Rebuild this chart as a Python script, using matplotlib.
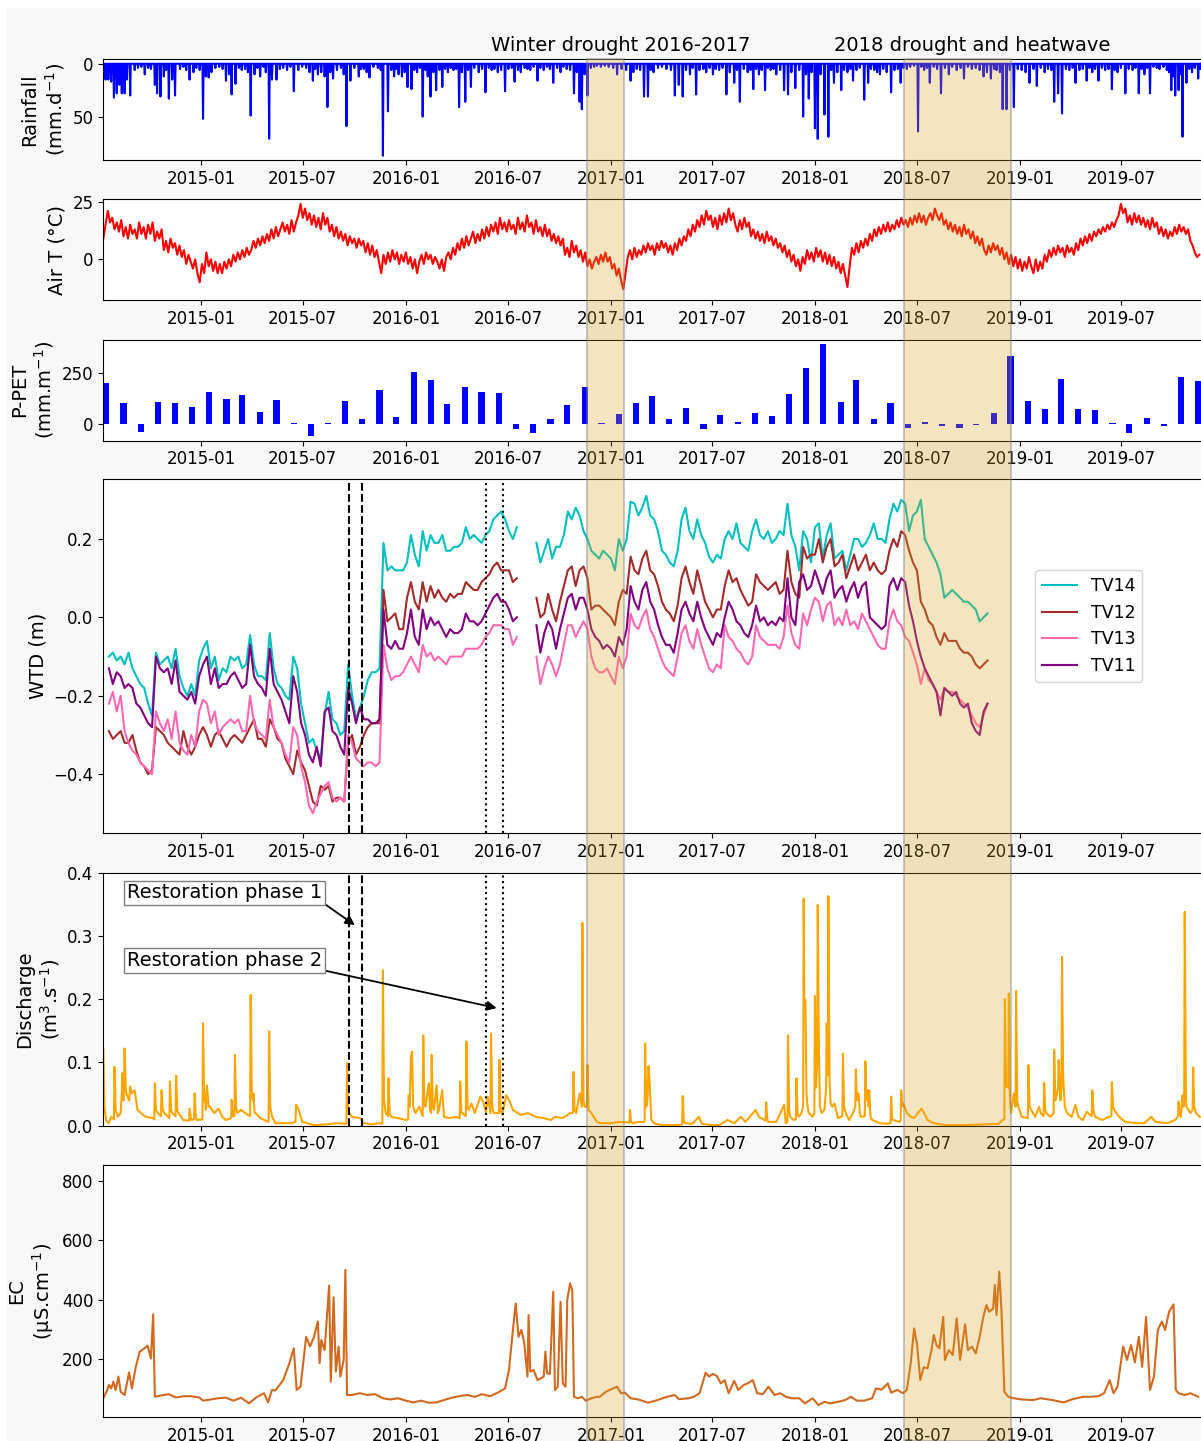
import numpy as np
import pandas as pd
import matplotlib
matplotlib.use("Agg")
import matplotlib.pyplot as plt
import matplotlib.dates as mdates
from matplotlib.colors import to_rgba
from matplotlib.patches import Rectangle
from matplotlib.transforms import blended_transform_factory

### Zeitachse: Tage ab Beginn der Messreihe ###
START = pd.Timestamp("2014-07-10")
N_DAYS = 1960

### Niederschlag (Tag, mm/d) ###
rain_day = [4, 9, 14, 19, 24, 29, 33, 38, 42, 48, 56, 62, 68, 74, 80, 85, 92, 96, 102, 108, 112, 117, 123, 128,
            137, 143, 148, 154, 161, 166, 172, 178, 183, 188, 193, 200, 207, 213, 219, 225, 229, 236, 242, 247,
            253, 258, 263, 270, 275, 280, 286, 290, 296, 301, 309, 315, 321, 328, 334, 340, 348, 355, 362, 368,
            374, 378, 383, 389, 395, 400, 405, 410, 417, 424, 429, 434, 441, 448, 456, 460, 465, 470, 475, 482,
            490, 495, 499, 508, 514, 519, 523, 527, 533, 538, 543, 550, 555, 560, 565, 570, 575, 579, 584, 589,
            594, 600, 605, 610, 615, 620, 625, 630, 635, 640, 646, 651, 656, 662, 670, 676, 682, 688, 693, 698,
            704, 710, 717, 723, 729, 734, 740, 745, 752, 757, 762, 768, 775, 780, 786, 792, 797, 803, 810, 816,
            821, 827, 833, 840, 845, 850, 854, 859, 864, 870, 876, 881,
            888, 895, 902, 910, 917, 925, 933, 941, 946, 952, 958, 965, 972, 977, 982, 990, 997, 1005, 1013, 1020,
            1027, 1034, 1040, 1047, 1052, 1058, 1064, 1071, 1076, 1082, 1088, 1093, 1099, 1105, 1112, 1118, 1126,
            1131, 1136, 1143, 1150, 1155, 1160, 1165, 1170, 1175, 1181, 1186, 1191, 1196, 1201, 1208, 1215, 1222,
            1228, 1235, 1242, 1249, 1254, 1259, 1264, 1270, 1275, 1280, 1287, 1294, 1299, 1304, 1310, 1317, 1322,
            1328, 1333, 1338, 1344, 1350, 1358, 1365, 1370, 1376, 1381, 1386, 1392, 1398, 1406, 1412, 1418, 1423,
            1428, 1434, 1440, 1447, 1454, 1460, 1465, 1470, 1475, 1482, 1488, 1495, 1502, 1509, 1515, 1523, 1530,
            1536, 1543, 1550, 1557, 1564, 1571, 1577, 1584, 1590, 1594, 1600, 1605, 1612, 1618, 1625, 1632, 1639,
            1646, 1653, 1660, 1666, 1673, 1680, 1686, 1692, 1697, 1704, 1711, 1718, 1724, 1730, 1735, 1742, 1748,
            1755, 1760, 1765, 1770, 1776, 1782, 1788, 1794, 1800, 1805, 1810, 1816, 1824, 1830, 1837, 1842, 1848,
            1853, 1858, 1863, 1868, 1874, 1880, 1885, 1892, 1898, 1902, 1906, 1910, 1913, 1919, 1923, 1926, 1933,
            1938, 1943, 1948, 1954, 1958]
rain_mm = [15, 15, 17, 32, 28, 20, 28, 28, 15, 30, 6, 4, 3, 10, 4, 5, 20, 28, 31, 12, 6, 33, 15, 30,
           5, 3, 6, 15, 8, 4, 6, 52, 12, 13, 8, 4, 3, 5, 16, 10, 29, 19, 4, 6,
           5, 8, 49, 10, 4, 12, 3, 8, 71, 15, 15, 5, 4, 6, 3, 26, 6, 3, 4, 8,
           16, 5, 10, 8, 12, 41, 8, 14, 6, 4, 10, 59, 16, 4, 12, 5, 5, 8, 13, 3,
           4, 6, 87, 45, 6, 12, 5, 10, 12, 8, 22, 24, 6, 8, 4, 50, 6, 12, 31, 8,
           25, 6, 22, 5, 8, 4, 6, 5, 41, 8, 36, 6, 22, 4, 8, 5, 27, 4, 6, 5,
           8, 6, 26, 5, 4, 17, 6, 8, 4, 5, 6, 3, 16, 4, 6, 3, 5, 18, 4, 8,
           3, 5, 6, 28, 8, 36, 43, 10, 30, 4, 3, 2,
           3, 2, 3, 4, 10, 5, 6, 16, 8, 5, 6, 31, 31, 6, 8, 4, 3, 5, 6, 30,
           20, 31, 6, 10, 4, 29, 6, 5, 8, 4, 10, 5, 6, 4, 29, 8, 18,
           6, 36, 5, 8, 6, 24, 5, 10, 6, 25, 4, 6, 5, 10, 6, 25, 29,
           8, 23, 6, 50, 10, 33, 8, 61, 71, 10, 48, 69, 6, 18, 8, 25, 6,
           8, 5, 16, 6, 4, 34, 18, 5, 6, 8, 10, 5, 8, 27, 6, 5, 18,
           4, 5, 3, 2, 64, 3, 6, 4, 18, 3, 5, 28, 4, 10, 3, 6, 4,
           14, 3, 5, 4, 6, 12, 8, 14, 5, 6, 8, 43, 43, 6, 41, 5, 6,
           8, 18, 5, 21, 4, 8, 5, 6, 36, 28, 47, 5, 6, 4, 18, 6, 5,
           16, 4, 8, 5, 16, 4, 6, 5, 24, 6, 8, 4, 28, 5, 6, 4, 28,
           5, 10, 4, 28, 3, 4, 5, 3, 6, 8, 25, 12, 30, 25, 10, 69, 18,
           5, 8, 4, 14, 5]

### Lufttemperatur, alle 4 Tage ab 2014-07-10 (°C) ###
temp_c = [9, 15, 21, 16, 18, 13, 16, 12, 17, 10, 14, 9, 15, 11, 13, 9, 16, 11, 14, 9,
          15, 11, 16, 8, 12, 9, 13, 4, 8, 3, 9, 5, 7, 2, 6, 1, 4, -2, 2, -1,
          -4, 0, -6, -10, -2, -6, 3, -3, 0, -5, -1, -6, -2, -6, -1, -4, 0, -3, 2, -1,
          3, 0, 4, 1, 5, 2, 4, 8, 5, 9, 6, 10, 7, 11, 8, 13, 9, 14, 10, 13,
          16, 12, 15, 11, 17, 12, 16, 19, 24, 18, 22, 17, 20, 15, 19, 14, 18, 13, 20, 15,
          18, 12, 15, 10, 14, 9, 12, 8, 11, 6, 10, 7, 9, 5, 9, 6, 8, 3, 7, 2,
          6, 1, 4, -1, -6, 2, -2, 3, -1, 4, 0, 3, -2, 2, -1, 3, -2, 1, -4, 0,
          -6, -1, 2, -2, 3, 0, 2, -2, 1, -1, -4, 0, -5, 1, 3, 0, 5, 2, 7, 4,
          9, 5, 10, 6, 9, 12, 7, 11, 8, 13, 9, 14, 10, 15, 12, 16, 11, 18, 13, 16,
          12, 17, 13, 15, 11, 18, 13, 16, 12, 19, 14, 16, 11, 17, 12, 14, 10, 15, 10, 13,
          8, 11, 7, 10, 6, 9, 2, 5, 1, 8, 3, 6, 1, 4, -1, 3, -3, 0, -4, -1,
          1, -2, 2, -1, 3, -1, 1, -4, -2, -7, -4, -9, -13, -6, 1, 4, 0, 5, 1, 4,
          2, 6, 3, 7, 4, 6, 2, 7, 4, 8, 5, 7, 3, 6, 2, 7, 4, 9, 6, 10,
          8, 13, 10, 15, 12, 17, 14, 19, 15, 21, 17, 19, 14, 18, 13, 19, 15, 20, 16, 22,
          17, 20, 15, 12, 17, 13, 18, 14, 16, 10, 13, 9, 12, 8, 11, 7, 12, 8, 10, 6,
          9, 5, 7, 3, 6, 1, 4, -1, 2, -3, 0, -5, 1, -2, 4, 0, 3, -1, 5, 1,
          4, -1, 3, -2, 2, -3, 1, -4, -1, -6, -2, -7, -12, -3, 5, 2, 7, 3, 8, 5,
          9, 6, 11, 8, 13, 10, 14, 11, 15, 12, 16, 12, 15, 13, 17, 14, 18, 15, 17, 14,
          18, 15, 19, 16, 20, 16, 19, 15, 18, 20, 17, 22, 19, 17, 20, 15, 17, 13, 16, 12,
          15, 11, 14, 10, 15, 11, 13, 9, 12, 7, 10, 6, 9, 4, 2, 6, 3, 7, 4, 6,
          2, 5, 0, 3, -2, 2, -3, 1, -4, 0, -5, -1, -4, 1, -3, -6, 0, -5, -1, -4,
          2, -1, 4, 1, 5, 2, 6, 3, 5, 1, 6, 3, 5, 2, 7, 4, 9, 6, 10, 7,
          11, 8, 12, 10, 13, 11, 14, 12, 15, 13, 16, 14, 17, 19, 24, 20, 22, 16, 19, 15,
          20, 16, 19, 15, 18, 14, 17, 13, 18, 14, 16, 11, 14, 10, 13, 9, 12, 10, 14, 11,
          15, 12, 14, 11, 13, 8, 6, 3, 1, 2]

### P-PET, Monatswerte 2014-07 bis 2019-11 (mm/Monat) ###
ppet_mm = [198, 104, -37, 109, 101, 84,
           154, 122, 143, 60, 117, 3, -57, 3, 114, 23, 164, 32,
           252, 214, 99, 182, 156, 149, -26, -45, 23, 93, 182, 5,
           47, 101, 138, 23, 76, -26, 42, 8, 54, 39, 148, 271,
           388, 109, 213, 26, 101, -18, 8, -10, -18, -3, 52, 330,
           112, 73, 219, 71, 70, 3, -45, 29, -10, 227, 208]

### Grundwasserflurabstand, Wochenwerte ab 2014-07-20 (m) ###
nan = np.nan
tv14 = [-0.10, -0.09, -0.11, -0.10, -0.12, -0.09, -0.13, -0.15, -0.17, -0.18,
        -0.22, -0.25, -0.09, -0.12, -0.11, -0.10, -0.13, -0.08, -0.15, -0.18,
        -0.20, -0.17, -0.20, -0.11, -0.08, -0.06, -0.13, -0.10, -0.16, -0.13,
        -0.14, -0.10, -0.11, -0.10, -0.13, -0.12, -0.045, -0.12, -0.15, -0.15,
        -0.16, -0.04, -0.13, -0.17, -0.18, -0.20, -0.21, -0.10, -0.13, -0.22,
        -0.27, -0.32, -0.31, -0.34, -0.36, -0.25, -0.19, -0.26, -0.27, -0.30,
        -0.29, -0.12, -0.20, -0.26, -0.23, -0.20, -0.16, -0.14, -0.14, -0.13,
        0.19, 0.12, 0.13, 0.12, 0.12, 0.12, 0.14, 0.21, 0.16, 0.13,
        0.22, 0.17, 0.21, 0.19, 0.19, 0.21, 0.17, 0.17, 0.18, 0.18,
        0.19, 0.23, 0.20, 0.21, 0.20, 0.19, 0.21, 0.22, 0.25, 0.26,
        0.27, 0.25, 0.22, 0.20, 0.23, nan, nan, nan, nan, 0.19,
        0.14, 0.17, 0.20, 0.15, 0.18, 0.18, 0.21, 0.27, 0.25, 0.28,
        0.26, 0.22, 0.20, 0.17, 0.16, 0.15, 0.17, 0.16, 0.15, 0.12,
        0.20, 0.17, 0.20, 0.295, 0.29, 0.26, 0.28, 0.31, 0.26, 0.25,
        0.22, 0.17, 0.16, 0.14, 0.13, 0.17, 0.25, 0.28, 0.22, 0.20,
        0.25, 0.21, 0.19, 0.155, 0.14, 0.16, 0.15, 0.20, 0.22, 0.20,
        0.24, 0.19, 0.18, 0.17, 0.22, 0.25, 0.21, 0.20, 0.22, 0.19,
        0.20, 0.22, 0.21, 0.29, 0.21, 0.18, 0.12, 0.22, 0.20, 0.14,
        0.23, 0.24, 0.15, 0.21, 0.24, 0.15, 0.16, 0.17, 0.12, 0.16,
        0.20, 0.20, 0.18, 0.19, 0.21, 0.24, 0.20, 0.20, 0.19, 0.25,
        0.29, 0.27, 0.30, 0.29, 0.22, 0.26, 0.27, 0.30, 0.20, 0.18,
        0.16, 0.14, 0.11, 0.05, 0.06, 0.07, 0.06, 0.05, 0.04, 0.04,
        0.03, 0.02, -0.01, 0.00, 0.01]
tv12 = [-0.29, -0.31, -0.30, -0.29, -0.32, -0.32, -0.30, -0.34, -0.37, -0.38,
        -0.40, -0.39, -0.28, -0.29, -0.30, -0.32, -0.33, -0.34, -0.35, -0.29,
        -0.33, -0.35, -0.33, -0.30, -0.28, -0.30, -0.33, -0.30, -0.29, -0.31,
        -0.33, -0.31, -0.30, -0.31, -0.32, -0.30, -0.28, -0.26, -0.31, -0.31,
        -0.33, -0.26, -0.28, -0.31, -0.32, -0.36, -0.38, -0.40, -0.34, -0.37,
        -0.39, -0.43, -0.47, -0.48, -0.43, -0.44, -0.43, -0.47, -0.46, -0.46,
        -0.47, -0.32, -0.30, -0.35, -0.33, -0.30, -0.28, -0.27, -0.27, -0.27,
        0.07, -0.01, 0.00, 0.01, -0.03, -0.03, 0.05, 0.09, 0.04, 0.02,
        0.09, 0.04, 0.08, 0.05, 0.07, 0.05, 0.04, 0.06, 0.05, 0.06,
        0.06, 0.09, 0.08, 0.07, 0.07, 0.09, 0.10, 0.11, 0.13, 0.14,
        0.12, 0.12, 0.12, 0.09, 0.10, nan, nan, nan, nan, 0.05,
        0.00, 0.01, 0.06, 0.02, -0.01, 0.04, 0.08, 0.12, 0.13, 0.08,
        0.12, 0.13, 0.10, 0.02, 0.03, 0.03, 0.02, 0.01, 0.00, -0.02,
        0.04, 0.07, 0.06, 0.155, 0.12, 0.11, 0.15, 0.17, 0.12, 0.11,
        0.08, 0.04, 0.02, 0.01, -0.01, 0.03, 0.10, 0.13, 0.09, 0.06,
        0.12, 0.08, 0.04, 0.02, 0.00, 0.02, 0.02, 0.08, 0.12, 0.09,
        0.10, 0.07, 0.05, 0.03, 0.04, 0.11, 0.09, 0.08, 0.07, 0.08,
        0.09, 0.06, 0.07, 0.17, 0.09, 0.06, 0.05, 0.18, 0.15, 0.16,
        0.16, 0.20, 0.14, 0.18, 0.20, 0.13, 0.14, 0.16, 0.10, 0.13,
        0.16, 0.12, 0.14, 0.16, 0.12, 0.14, 0.12, 0.11, 0.12, 0.17,
        0.20, 0.18, 0.22, 0.21, 0.17, 0.14, 0.12, 0.04, 0.02, -0.01,
        -0.02, -0.05, -0.07, -0.04, -0.06, -0.06, -0.06, -0.08, -0.09, -0.09,
        -0.10, -0.12, -0.13, -0.12, -0.11]
tv13 = [-0.22, -0.19, -0.24, -0.20, -0.29, -0.32, -0.34, -0.35, -0.37, -0.38,
        -0.39, -0.40, -0.24, -0.27, -0.29, -0.26, -0.31, -0.24, -0.32, -0.34,
        -0.35, -0.30, -0.33, -0.24, -0.21, -0.22, -0.27, -0.24, -0.30, -0.28,
        -0.27, -0.26, -0.27, -0.26, -0.29, -0.29, -0.20, -0.27, -0.29, -0.30,
        -0.31, -0.21, -0.28, -0.30, -0.32, -0.35, -0.37, -0.28, -0.30, -0.38,
        -0.42, -0.48, -0.50, -0.47, -0.45, -0.43, -0.42, -0.46, -0.47, -0.46,
        -0.47, -0.30, -0.32, -0.36, -0.37, -0.38, -0.37, -0.37, -0.38, -0.37,
        -0.07, -0.13, -0.16, -0.15, -0.15, -0.14, -0.12, -0.10, -0.12, -0.14,
        -0.07, -0.10, -0.09, -0.11, -0.10, -0.11, -0.12, -0.10, -0.10, -0.10,
        -0.10, -0.08, -0.08, -0.08, -0.08, -0.07, -0.05, -0.04, -0.02, -0.02,
        -0.02, -0.03, -0.03, -0.07, -0.05, nan, nan, nan, nan, -0.10,
        -0.17, -0.13, -0.10, -0.12, -0.15, -0.12, -0.07, -0.02, -0.02, -0.05,
        -0.03, -0.01, -0.03, -0.10, -0.13, -0.14, -0.14, -0.13, -0.15, -0.17,
        -0.10, -0.13, -0.10, 0.01, -0.02, -0.03, 0.00, 0.02, -0.03, -0.05,
        -0.08, -0.11, -0.13, -0.14, -0.15, -0.10, -0.04, -0.02, -0.06, -0.08,
        -0.03, -0.07, -0.10, -0.13, -0.14, -0.12, -0.13, -0.02, -0.05, -0.06,
        -0.08, -0.09, -0.11, -0.12, -0.10, -0.02, -0.05, -0.06, -0.07, -0.07,
        -0.07, -0.08, -0.05, 0.03, -0.04, -0.07, -0.08, 0.01, -0.02, 0.02,
        0.05, 0.04, -0.01, 0.03, 0.04, -0.02, 0.00, -0.02, 0.02, -0.02,
        -0.01, -0.03, 0.01, -0.01, -0.03, -0.05, -0.07, -0.08, -0.08, -0.01,
        0.02, -0.01, -0.02, -0.05, -0.06, -0.09, -0.12, -0.17, -0.13, -0.16,
        -0.17, -0.19, -0.21, -0.18, -0.19, -0.19, -0.20, -0.21, -0.22, -0.23,
        -0.25, -0.27, -0.28, -0.25, -0.22]
tv11 = [-0.13, -0.17, -0.14, -0.15, -0.18, -0.17, -0.18, -0.22, -0.23, -0.25,
        -0.27, -0.28, -0.10, -0.13, -0.14, -0.13, -0.17, -0.11, -0.19, -0.20,
        -0.21, -0.19, -0.22, -0.15, -0.12, -0.10, -0.17, -0.13, -0.18, -0.17,
        -0.17, -0.15, -0.14, -0.16, -0.18, -0.17, -0.07, -0.15, -0.17, -0.18,
        -0.20, -0.08, -0.17, -0.19, -0.21, -0.24, -0.27, -0.15, -0.19, -0.27,
        -0.30, -0.35, -0.37, -0.33, -0.38, -0.24, -0.23, -0.29, -0.30, -0.33,
        -0.35, -0.18, -0.22, -0.27, -0.23, -0.26, -0.26, -0.27, -0.27, -0.26,
        0.02, -0.07, -0.08, -0.06, -0.08, -0.08, -0.04, 0.02, -0.05, -0.07,
        0.02, -0.03, 0.00, -0.02, -0.01, -0.03, -0.05, -0.03, -0.04, -0.04,
        -0.03, 0.01, -0.01, -0.01, -0.02, -0.01, 0.01, 0.03, 0.05, 0.06,
        0.04, 0.04, 0.02, -0.01, 0.00, nan, nan, nan, nan, -0.02,
        -0.09, -0.04, -0.01, -0.03, -0.08, -0.03, 0.01, 0.05, 0.06, 0.02,
        0.05, 0.05, 0.02, -0.03, -0.05, -0.06, -0.08, -0.07, -0.08, -0.10,
        -0.05, -0.07, -0.03, 0.08, 0.04, 0.02, 0.07, 0.09, 0.04, 0.02,
        -0.02, -0.05, -0.07, -0.07, -0.09, -0.04, 0.02, 0.04, 0.01, -0.01,
        0.04, 0.00, -0.03, -0.05, -0.07, -0.04, -0.05, 0.00, 0.04, 0.02,
        -0.01, -0.02, -0.04, -0.05, -0.02, 0.03, -0.01, 0.00, -0.02, -0.01,
        -0.02, 0.00, -0.01, 0.10, 0.00, -0.02, 0.09, 0.11, 0.07, 0.08,
        0.12, 0.09, 0.06, 0.10, 0.12, 0.05, 0.07, 0.08, 0.04, 0.07,
        0.09, 0.05, 0.08, 0.09, 0.00, -0.01, -0.02, -0.03, -0.02, 0.08,
        0.10, 0.07, 0.10, 0.09, 0.03, -0.01, -0.06, -0.10, -0.13, -0.15,
        -0.17, -0.19, -0.25, -0.18, -0.19, -0.20, -0.19, -0.22, -0.23, -0.22,
        -0.27, -0.29, -0.30, -0.24, -0.22]

### Abfluss (Tag, m3/s) ###
q_day = [0, 2, 5, 10, 14, 19, 20, 22, 26, 31,
         33, 34, 36, 37, 38, 40, 41, 46, 48, 51,
         56, 61, 75, 89, 91, 92, 94, 97, 103, 104,
         106, 109, 118, 119, 121, 123, 129, 130, 132, 134,
         143, 153, 154, 157, 162, 163, 165, 167, 177, 178,
         180, 181, 183, 185, 188, 190, 198, 206, 212, 219,
         228, 229, 231, 234, 235, 237, 239, 246, 253, 262,
         263, 265, 267, 268, 270, 272, 280, 295, 296, 298,
         301, 307, 321, 335, 343, 344, 348, 355, 376, 396,
         417, 434, 435, 437, 439, 444, 458, 465, 478, 492,
         498, 499, 501, 504, 508, 509, 511, 514, 526, 540,
         544, 545, 547, 549, 551, 553, 557, 564, 570, 571,
         573, 575, 581, 583, 585, 586, 588, 590, 595, 597,
         599, 605, 608, 618, 628, 636, 637, 639, 641, 647,
         648, 650, 652, 657, 663, 673, 678, 683, 686, 691,
         692, 694, 697, 706, 707, 709, 712, 719, 724, 731,
         745, 758, 772, 786, 799, 806, 820, 833, 838, 839,
         841, 844, 850, 854, 855, 857, 859, 863, 864, 866,
         871, 881, 887, 907, 921, 939, 940, 942, 945, 955,
         966, 967, 969, 971, 973, 975, 978, 982, 996, 1010,
         1023, 1033, 1034, 1036, 1038, 1051, 1063, 1068, 1085, 1099,
         1114, 1126, 1138, 1146, 1164, 1170, 1182, 1183, 1185, 1187,
         1201, 1215, 1218, 1221, 1222, 1224, 1226, 1232, 1236, 1237,
         1239, 1241, 1246, 1249, 1250, 1251, 1253, 1255, 1257, 1259,
         1266, 1269, 1270, 1272, 1274, 1275, 1277, 1279, 1282, 1287,
         1290, 1291, 1293, 1294, 1296, 1298, 1301, 1305, 1311, 1319,
         1320, 1322, 1325, 1331, 1338, 1342, 1343, 1345, 1348, 1350,
         1352, 1359, 1360, 1362, 1364, 1366, 1367, 1369, 1372, 1386,
         1400, 1405, 1406, 1408, 1410, 1420, 1423, 1424, 1426, 1428,
         1434, 1441, 1447, 1460, 1465, 1471, 1482, 1502, 1536, 1570,
         1598, 1605, 1608, 1609, 1611, 1613, 1615, 1616, 1618, 1620,
         1625, 1628, 1629, 1631, 1633, 1639, 1650, 1651, 1653, 1656,
         1663, 1670, 1673, 1678, 1679, 1681, 1683, 1690, 1696, 1697,
         1699, 1702, 1704, 1705, 1708, 1710, 1711, 1713, 1716, 1720,
         1728, 1735, 1740, 1748, 1755, 1764, 1765, 1767, 1770, 1783,
         1789, 1799, 1800, 1802, 1804, 1813, 1824, 1844, 1858, 1870,
         1878, 1899, 1913, 1918, 1919, 1921, 1923, 1926, 1928, 1929,
         1930, 1932, 1933, 1940, 1944, 1945, 1947, 1950, 1957]
q_m3s = [0.122, 0.030, 0.008, 0.004, 0.014, 0.010, 0.093, 0.025, 0.014, 0.020,
         0.050, 0.083, 0.040, 0.060, 0.122, 0.060, 0.051, 0.040, 0.062, 0.051,
         0.056, 0.025, 0.014, 0.012, 0.010, 0.067, 0.025, 0.020, 0.015, 0.056,
         0.025, 0.020, 0.012, 0.070, 0.025, 0.020, 0.015, 0.079, 0.025, 0.020,
         0.009, 0.008, 0.027, 0.009, 0.010, 0.051, 0.015, 0.009, 0.010, 0.162,
         0.040, 0.051, 0.025, 0.064, 0.030, 0.030, 0.020, 0.027, 0.014, 0.009,
         0.012, 0.041, 0.015, 0.015, 0.112, 0.030, 0.020, 0.025, 0.020, 0.015,
         0.207, 0.050, 0.040, 0.051, 0.020, 0.020, 0.012, 0.006, 0.149, 0.030,
         0.015, 0.004, 0.004, 0.004, 0.006, 0.033, 0.027, 0.006, 0.001, 0.002,
         0.004, 0.003, 0.099, 0.025, 0.020, 0.014, 0.012, 0.004, 0.002, 0.004,
         0.003, 0.246, 0.040, 0.020, 0.015, 0.075, 0.020, 0.014, 0.012, 0.009,
         0.010, 0.048, 0.030, 0.109, 0.117, 0.030, 0.020, 0.030, 0.015, 0.143,
         0.035, 0.030, 0.067, 0.025, 0.020, 0.112, 0.030, 0.025, 0.064, 0.020,
         0.025, 0.056, 0.014, 0.012, 0.014, 0.012, 0.070, 0.020, 0.020, 0.015,
         0.133, 0.030, 0.025, 0.035, 0.020, 0.046, 0.038, 0.020, 0.046, 0.020,
         0.146, 0.030, 0.020, 0.020, 0.104, 0.025, 0.017, 0.048, 0.041, 0.025,
         0.017, 0.020, 0.014, 0.012, 0.009, 0.014, 0.012, 0.020, 0.020, 0.085,
         0.025, 0.020, 0.051, 0.030, 0.321, 0.040, 0.030, 0.030, 0.096, 0.025,
         0.020, 0.006, 0.004, 0.004, 0.006, 0.005, 0.025, 0.006, 0.004, 0.006,
         0.006, 0.130, 0.030, 0.040, 0.094, 0.070, 0.010, 0.004, 0.001, 0.001,
         0.001, 0.002, 0.047, 0.008, 0.004, 0.003, 0.014, 0.003, 0.001, 0.001,
         0.009, 0.004, 0.014, 0.006, 0.025, 0.014, 0.008, 0.037, 0.010, 0.006,
         0.006, 0.033, 0.004, 0.006, 0.143, 0.025, 0.014, 0.009, 0.010, 0.075,
         0.020, 0.014, 0.020, 0.030, 0.359, 0.200, 0.199, 0.050, 0.030, 0.020,
         0.014, 0.020, 0.205, 0.060, 0.100, 0.349, 0.125, 0.030, 0.020, 0.025,
         0.060, 0.162, 0.080, 0.363, 0.072, 0.035, 0.030, 0.035, 0.012, 0.015,
         0.114, 0.030, 0.020, 0.009, 0.020, 0.030, 0.089, 0.040, 0.051, 0.020,
         0.014, 0.015, 0.102, 0.040, 0.056, 0.030, 0.056, 0.015, 0.009, 0.004,
         0.003, 0.004, 0.046, 0.010, 0.009, 0.006, 0.008, 0.056, 0.030, 0.035,
         0.020, 0.014, 0.012, 0.027, 0.020, 0.009, 0.004, 0.001, 0.001, 0.002,
         0.003, 0.009, 0.010, 0.200, 0.062, 0.062, 0.060, 0.209, 0.040, 0.020,
         0.051, 0.030, 0.213, 0.040, 0.030, 0.014, 0.012, 0.096, 0.030, 0.025,
         0.014, 0.030, 0.020, 0.015, 0.068, 0.025, 0.020, 0.014, 0.020, 0.120,
         0.040, 0.051, 0.060, 0.104, 0.040, 0.060, 0.267, 0.077, 0.030, 0.020,
         0.014, 0.033, 0.014, 0.009, 0.022, 0.015, 0.056, 0.025, 0.014, 0.009,
         0.012, 0.015, 0.069, 0.030, 0.025, 0.014, 0.006, 0.004, 0.004, 0.014,
         0.006, 0.004, 0.009, 0.015, 0.038, 0.020, 0.014, 0.048, 0.030, 0.040,
         0.338, 0.050, 0.030, 0.020, 0.025, 0.092, 0.030, 0.020, 0.014]

### Elektrische Leitfähigkeit (Tag, µS/cm) ###
ec_day = [0, 7, 10, 14, 18, 22, 27, 31, 38, 46, 51, 58, 65, 72, 79, 85, 89, 92, 102, 116, 130, 144, 157, 171,
          178, 191, 205, 219, 232, 246, 260, 273, 287, 294, 301, 307, 321, 331, 340, 345, 352, 362, 369, 376,
          383, 386, 389, 395, 403, 406, 411, 415, 420, 423, 429, 432, 435, 444, 458, 471, 485, 499, 512, 526,
          540, 553, 567, 581, 594, 608, 622, 635, 649, 663, 676, 690, 704, 717, 724, 731, 736, 741, 746, 751,
          757, 759, 762, 768, 775, 786, 789, 792, 797, 803, 806, 811, 816, 820, 825, 828, 833, 837, 840, 847,
          854, 861, 871, 881,
          886, 897, 907, 917, 924, 931, 941, 955, 972, 989, 1006, 1020, 1027, 1044, 1054, 1064, 1075, 1081,
          1088, 1095, 1102, 1109, 1116, 1126, 1133, 1143, 1150, 1159, 1167, 1177, 1187, 1198, 1208, 1218,
          1229, 1242, 1252, 1266, 1276, 1287, 1297, 1311, 1324, 1334, 1345, 1358, 1372, 1379, 1389, 1400,
          1406, 1417, 1427, 1434, 1441, 1447, 1452, 1458, 1464, 1471, 1478, 1482, 1487, 1492, 1499, 1502,
          1509, 1516, 1523, 1529, 1538, 1543, 1550, 1557, 1564, 1570, 1576, 1581, 1588, 1591, 1594, 1599,
          1603, 1608, 1615, 1625, 1639, 1659, 1673, 1694, 1714, 1728, 1748, 1762, 1776, 1786, 1796, 1803,
          1810, 1820, 1827, 1834, 1841, 1848, 1854, 1861, 1868, 1875, 1882, 1889, 1895, 1902, 1910, 1914,
          1919, 1930, 1940, 1954]
ec_uscm = [69, 97, 114, 102, 125, 97, 142, 91, 80, 156, 102, 175, 226, 235, 246, 203, 351, 74, 78, 83, 72, 76,
           76, 72,
           61, 65, 69, 71, 61, 71, 52, 72, 86, 55, 97, 95, 130, 181, 237, 97, 108, 276, 243, 276,
           327, 187, 265, 231, 448, 125, 409, 159, 243, 142, 198, 501, 80, 80, 86, 80, 83, 69, 65, 69,
           61, 55, 61, 54, 55, 63, 71, 76, 80, 74, 83, 76, 88, 102, 164, 299, 388, 276, 299, 259,
           142, 349, 159, 164, 130, 142, 226, 153, 151, 428, 97, 108, 394, 119, 108, 400, 456, 433, 74, 69,
           74, 61, 69, 74,
           74, 91, 100, 108, 86, 88, 69, 65, 54, 63, 74, 80, 66, 69, 74, 86, 155, 142,
           151, 144, 119, 130, 86, 128, 97, 114, 119, 130, 86, 83, 108, 80, 86, 74,
           69, 69, 52, 69, 46, 57, 52, 57, 63, 74, 61, 61, 69, 102, 98, 119,
           88, 97, 86, 97, 187, 304, 254, 130, 173, 170, 231, 282, 248, 237, 343, 198,
           231, 215, 338, 198, 318, 231, 243, 220, 276, 338, 383, 360, 371, 450, 349, 495,
           360, 91, 74, 69, 65, 63, 69, 63, 55, 65, 74, 74, 76, 86, 130, 86,
           108, 243, 198, 248, 190, 276, 175, 343, 97, 142, 299, 327, 299, 360, 385, 97,
           86, 80, 86, 74]

### Ereignisse ###
winter_drought = ("2016-11-20", "2017-01-24")
summer_drought = ("2018-06-08", "2018-12-16")
phase1_dates = ["2015-09-21", "2015-10-14"]
phase2_dates = ["2016-05-23", "2016-06-22"]


def days_to_dates(days):
    return START + pd.to_timedelta(np.asarray(days, dtype=float), unit="D")


rain_daily = np.zeros(N_DAYS)
rain_daily[np.array(rain_day)] = rain_mm
rain_dates = days_to_dates(np.arange(N_DAYS))
temp_dates = pd.date_range(START, periods=len(temp_c), freq="4D")
ppet_dates = pd.date_range("2014-07-01", periods=len(ppet_mm), freq="MS") + pd.Timedelta(days=14)
wtd_dates = pd.date_range("2014-07-20", periods=len(tv14), freq="7D")
q_dates = days_to_dates(q_day)
ec_dates = days_to_dates(ec_day)

### Abbildung ###
W, H = 1201, 1441
fig = plt.figure(figsize=(W / 100, H / 100), dpi=100)
fig.patch.set_facecolor("white")
fig.add_artist(Rectangle((7 / W, 0), 1 - 7 / W, (H - 8) / H, transform=fig.transFigure,
                         facecolor="#f8f8f8", edgecolor="none", zorder=-10))


def add_panel(top_px, bottom_px):
    left = 103.3
    return fig.add_axes([left / W, (H - bottom_px) / H, (W - left) / W, (bottom_px - top_px) / H])


ax_rain = add_panel(59, 160)
ax_temp = add_panel(199.3, 300)
ax_ppet = add_panel(339.7, 440.7)
ax_wtd = add_panel(479, 833)
ax_q = add_panel(872.7, 1125.7)
ax_ec = add_panel(1164.7, 1417.3)
axes = [ax_rain, ax_temp, ax_ppet, ax_wtd, ax_q, ax_ec]

ax_rain.plot(rain_dates, rain_daily, color="blue", lw=1.5)
ax_rain.set_ylim(91, -4.5)
ax_rain.set_yticks([0, 50])
ax_rain.set_ylabel("Rainfall\n(mm.d$^{-1}$)", fontsize=14)

ax_temp.plot(temp_dates, temp_c, color="red", lw=1.5)
ax_temp.set_ylim(-17.6, 26)
ax_temp.set_yticks([0, 25])
ax_temp.set_ylabel("Air T (°C)", fontsize=14)

ax_ppet.bar(ppet_dates, ppet_mm, width=11, color="blue")
ax_ppet.set_ylim(-81, 410)
ax_ppet.set_yticks([0, 250])
ax_ppet.set_ylabel("P-PET\n(mm.m$^{-1}$)", fontsize=14)

ax_wtd.plot(wtd_dates, tv14, color="c", lw=1.5, label="TV14")
ax_wtd.plot(wtd_dates, tv12, color="brown", lw=1.5, label="TV12")
ax_wtd.plot(wtd_dates, tv13, color="hotpink", lw=1.5, label="TV13")
ax_wtd.plot(wtd_dates, tv11, color="purple", lw=1.5, label="TV11")
ax_wtd.set_ylim(-0.55, 0.353)
ax_wtd.set_yticks([-0.4, -0.2, 0.0, 0.2])
ax_wtd.set_ylabel("WTD (m)", fontsize=14)
ax_wtd.legend(loc="upper left", bbox_to_anchor=(0.849, 0.743), borderaxespad=0, fontsize=12.5)

ax_q.plot(q_dates, q_m3s, color="orange", lw=1.5)
ax_q.set_ylim(0, 0.4)
ax_q.set_yticks([0.0, 0.1, 0.2, 0.3, 0.4])
ax_q.set_ylabel("Discharge\n(m$^3$.s$^{-1}$)", fontsize=14)

ax_ec.plot(ec_dates, ec_uscm, color="chocolate", lw=1.5)
ax_ec.set_ylim(5, 855)
ax_ec.set_yticks([200, 400, 600, 800])
ax_ec.set_ylabel("EC\n(µS.cm$^{-1}$)", fontsize=14)

for ax in (ax_wtd, ax_q):
    for d in phase1_dates:
        ax.axvline(pd.Timestamp(d), color="black", ls="--", lw=1.5)
    for d in phase2_dates:
        ax.axvline(pd.Timestamp(d), color="black", ls=":", lw=1.5)

box = dict(boxstyle="square,pad=0.15", fc="white", ec="gray")
arrow = dict(arrowstyle="-|>", color="black", lw=1.3, relpos=(1, 0), shrinkA=0, shrinkB=0)
ax_q.annotate("Restoration phase 1", xy=(pd.Timestamp("2015-10-02"), 0.317),
              xytext=(pd.Timestamp("2015-02-12"), 0.368), ha="center", va="center",
              fontsize=14, bbox=box, arrowprops=arrow)
ax_q.annotate("Restoration phase 2", xy=(pd.Timestamp("2016-06-11"), 0.186),
              xytext=(pd.Timestamp("2015-02-12"), 0.261), ha="center", va="center",
              fontsize=14, bbox=box, arrowprops=arrow)

xmin, xmax = START, START + pd.Timedelta(days=N_DAYS - 1)
for ax in axes:
    ax.set_xlim(xmin, xmax)
    ax.xaxis.set_major_locator(mdates.MonthLocator(bymonth=(1, 7)))
    ax.xaxis.set_major_formatter(mdates.DateFormatter("%Y-%m"))
    ax.tick_params(labelsize=12)
    ax.spines["right"].set_visible(False)

# Dürreperioden über alle Panels
trans = blended_transform_factory(ax_ec.transData, fig.transFigure)
for a, b in (winter_drought, summer_drought):
    x0 = mdates.date2num(pd.Timestamp(a))
    x1 = mdates.date2num(pd.Timestamp(b))
    fig.add_artist(Rectangle((x0, 0), x1 - x0, (H - 59) / H, transform=trans,
                             facecolor=to_rgba("goldenrod", 0.28), edgecolor=to_rgba("gray", 0.5),
                             lw=1.2, zorder=5))

ax_rain.text(pd.Timestamp("2017-01-19"), 1.13, "Winter drought 2016-2017",
             transform=ax_rain.get_xaxis_transform(), ha="center", va="center", fontsize=14)
ax_rain.text(pd.Timestamp("2018-10-07"), 1.13, "2018 drought and heatwave",
             transform=ax_rain.get_xaxis_transform(), ha="center", va="center", fontsize=14)

fig.savefig("out.png", dpi=100)
